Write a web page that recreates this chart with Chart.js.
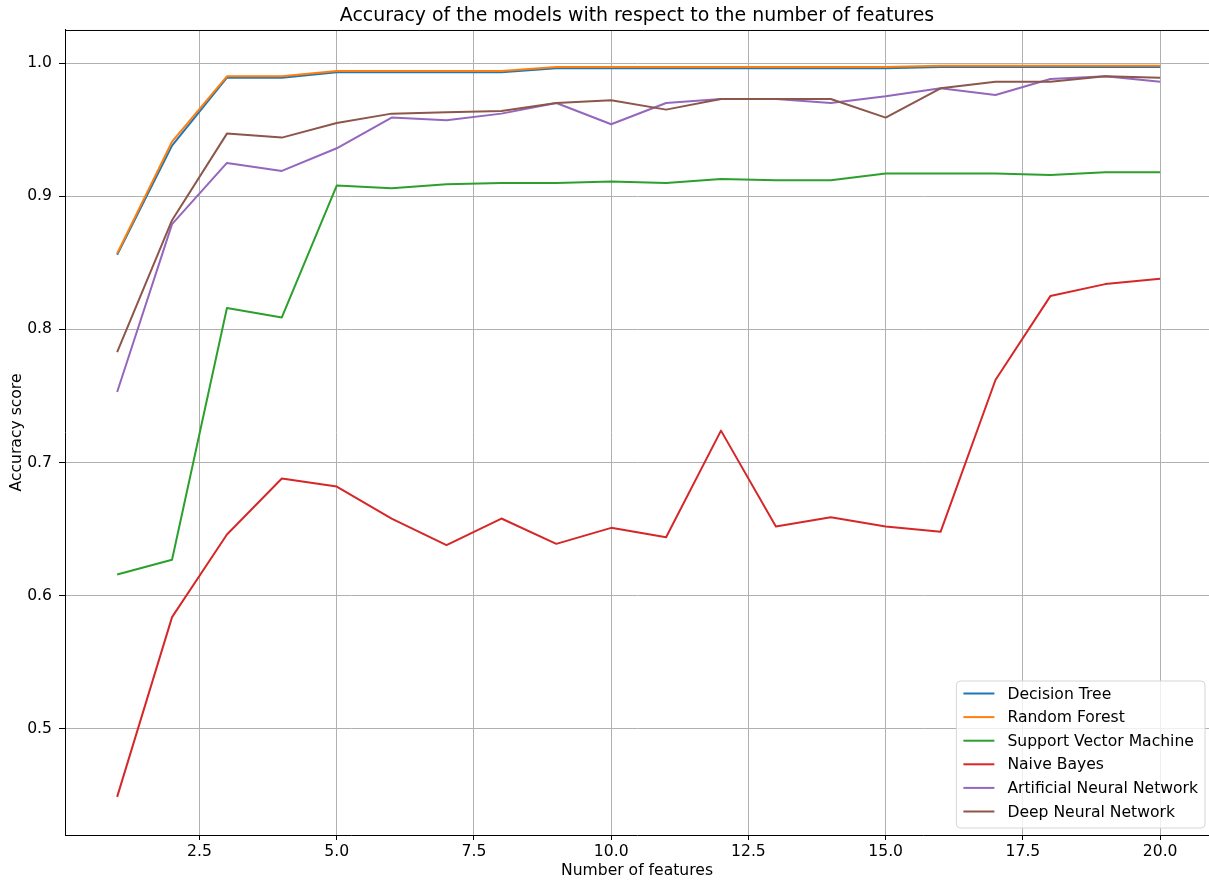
<!DOCTYPE html>
<html>
<head>
<meta charset="utf-8">
<script src="https://cdn.jsdelivr.net/npm/chart.js@4.4.1/dist/chart.umd.min.js"></script>
<style>
  html, body { margin: 0; padding: 0; background: #fff; overflow: hidden; }
  canvas { display: block; }
</style>
</head>
<body>
<canvas id="chart" width="1209" height="881"></canvas>
<script>
// Number of input features used for each model
const features = [1, 2, 3, 4, 5, 6, 7, 8, 9, 10, 11, 12, 13, 14, 15, 16, 17, 18, 19, 20];

// Accuracy scores per model
const decisionTree = [0.856, 0.938, 0.989, 0.989, 0.993, 0.993, 0.993, 0.993, 0.996, 0.996,
                      0.996, 0.996, 0.996, 0.996, 0.996, 0.997, 0.997, 0.997, 0.997, 0.997];
const randomForest = [0.857, 0.941, 0.990, 0.990, 0.994, 0.994, 0.994, 0.994, 0.997, 0.997,
                      0.997, 0.997, 0.997, 0.997, 0.997, 0.998, 0.998, 0.998, 0.998, 0.998];
const svm          = [0.616, 0.627, 0.816, 0.809, 0.908, 0.906, 0.909, 0.910, 0.910, 0.911,
                      0.910, 0.913, 0.912, 0.912, 0.917, 0.917, 0.917, 0.916, 0.918, 0.918];
const naiveBayes   = [0.449, 0.584, 0.646, 0.688, 0.682, 0.658, 0.638, 0.658, 0.639, 0.651,
                      0.644, 0.724, 0.652, 0.659, 0.652, 0.648, 0.762, 0.825, 0.834, 0.838];
const ann          = [0.753, 0.879, 0.925, 0.919, 0.936, 0.959, 0.957, 0.962, 0.970, 0.954,
                      0.970, 0.973, 0.973, 0.970, 0.975, 0.981, 0.976, 0.988, 0.990, 0.986];
const dnn          = [0.783, 0.882, 0.947, 0.944, 0.955, 0.962, 0.963, 0.964, 0.970, 0.972,
                      0.965, 0.973, 0.973, 0.973, 0.959, 0.981, 0.986, 0.986, 0.990, 0.989];

const seriesNames  = ['Decision Tree', 'Random Forest', 'Support Vector Machine', 'Naive Bayes',
                      'Artificial Neural Network', 'Deep Neural Network'];
const seriesValues = [decisionTree, randomForest, svm, naiveBayes, ann, dnn];
const seriesColors = ['#1f77b4', '#ff7f0e', '#2ca02c', '#d62728', '#9467bd', '#8c564b'];

// Axis tick positions
const xTicks = [2.5, 5, 7.5, 10, 12.5, 15, 17.5, 20];
const yTicks = [0.5, 0.6, 0.7, 0.8, 0.9, 1.0];

const FONT = 'DejaVu Sans';
const LABEL_SIZE = 15.6;
Chart.defaults.font.family = FONT;
Chart.defaults.color = '#000';

const datasets = seriesNames.map((name, i) => ({
  label: name,
  data: features.map((f, j) => ({ x: f, y: seriesValues[i][j] })),
  borderColor: seriesColors[i],
  backgroundColor: seriesColors[i],
  borderWidth: 2,
  pointRadius: 0,
  tension: 0,
  fill: false,
  borderJoinStyle: 'round',
  order: seriesNames.length - i   // later series drawn on top
}));

// Top frame line of the axes box
const frameTop = {
  id: 'frameTop',
  afterDatasetsDraw(chart) {
    const { ctx, chartArea: a } = chart;
    ctx.save();
    ctx.strokeStyle = '#000';
    ctx.lineWidth = 1;
    ctx.beginPath();
    ctx.moveTo(a.left, a.top + 0.5);
    ctx.lineTo(a.right, a.top + 0.5);
    ctx.stroke();
    ctx.restore();
  }
};

// Legend box in the lower-right corner of the plot area
const innerLegend = {
  id: 'innerLegend',
  afterDraw(chart) {
    const { ctx, chartArea: a } = chart;
    const ds = chart.data.datasets;
    const rowH = 23.6, padX = 7, sampleW = 31, gap = 13;
    ctx.save();
    ctx.font = LABEL_SIZE + 'px "' + FONT + '"';
    let maxW = 0;
    ds.forEach(d => { maxW = Math.max(maxW, ctx.measureText(d.label).width); });
    const w = padX + sampleW + gap + maxW + padX;
    const h = 147;
    const x = a.right - 4 - w;
    const y = a.bottom - 7 - h;
    const r = 4;
    ctx.beginPath();
    ctx.moveTo(x + r, y);
    ctx.lineTo(x + w - r, y);
    ctx.arcTo(x + w, y, x + w, y + r, r);
    ctx.lineTo(x + w, y + h - r);
    ctx.arcTo(x + w, y + h, x + w - r, y + h, r);
    ctx.lineTo(x + r, y + h);
    ctx.arcTo(x, y + h, x, y + h - r, r);
    ctx.lineTo(x, y + r);
    ctx.arcTo(x, y, x + r, y, r);
    ctx.closePath();
    ctx.fillStyle = 'rgba(255,255,255,0.8)';
    ctx.fill();
    ctx.strokeStyle = '#d6d6d6';
    ctx.lineWidth = 1;
    ctx.stroke();
    ctx.textBaseline = 'middle';
    ctx.textAlign = 'left';
    ds.forEach((d, i) => {
      const cy = y + 12.5 + i * rowH;
      ctx.strokeStyle = d.borderColor;
      ctx.lineWidth = 2;
      ctx.beginPath();
      ctx.moveTo(x + padX, cy);
      ctx.lineTo(x + padX + sampleW, cy);
      ctx.stroke();
      ctx.fillStyle = '#000';
      ctx.fillText(d.label, x + padX + sampleW + gap, cy + 1);
    });
    ctx.restore();
  }
};

new Chart(document.getElementById('chart'), {
  type: 'line',
  data: { datasets },
  plugins: [frameTop, innerLegend],
  options: {
    responsive: false,
    animation: false,
    layout: { padding: 0 },
    plugins: {
      legend: { display: false },
      tooltip: { enabled: false },
      title: {
        display: true,
        fullSize: false,
        text: 'Accuracy of the models with respect to the number of features',
        font: { family: FONT, size: 18.9, weight: 'normal' },
        color: '#000',
        padding: { top: 5, bottom: 2.3 }
      }
    },
    scales: {
      x: {
        type: 'linear',
        min: 0.05,
        max: 20.89,
        afterBuildTicks: s => { s.ticks = xTicks.map(v => ({ value: v })); },
        afterFit: s => { s.height = 46; },
        ticks: {
          font: { size: LABEL_SIZE },
          color: '#000',
          padding: 3,
          maxRotation: 0,
          callback: v => Number(v).toFixed(1)
        },
        grid: { color: '#b0b0b0', lineWidth: 1, tickColor: '#000', tickLength: 5, tickWidth: 1 },
        border: { display: true, color: '#000', width: 1 },
        title: {
          display: true,
          text: 'Number of features',
          font: { size: LABEL_SIZE },
          color: '#000',
          padding: { top: 0, bottom: 1 }
        }
      },
      y: {
        type: 'linear',
        min: 0.4204,
        max: 1.0248,
        afterBuildTicks: s => { s.ticks = yTicks.map(v => ({ value: v })); },
        afterFit: s => { s.width = 65; },
        ticks: {
          font: { size: LABEL_SIZE },
          color: '#000',
          padding: 7,
          callback: v => Number(v).toFixed(1)
        },
        grid: { color: '#b0b0b0', lineWidth: 1, tickColor: '#000', tickLength: 6, tickWidth: 1 },
        border: { display: true, color: '#000', width: 1 },
        title: {
          display: true,
          text: 'Accuracy score',
          font: { size: LABEL_SIZE },
          color: '#000',
          padding: { top: 8, bottom: 0 }
        }
      }
    }
  }
});
</script>
</body>
</html>
